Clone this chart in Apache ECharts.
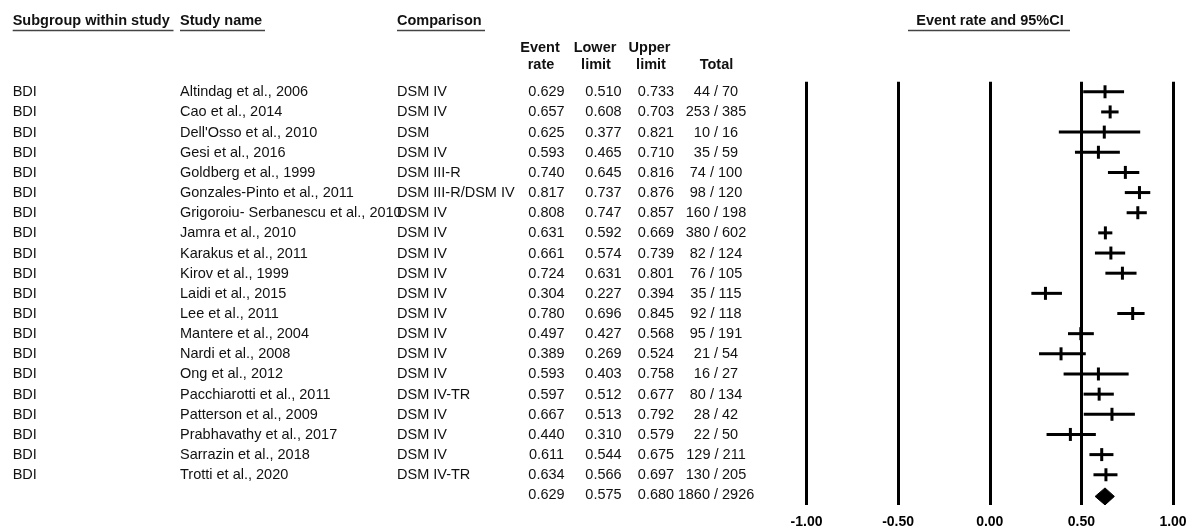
<!DOCTYPE html>
<html><head><meta charset="utf-8">
<script src="https://cdn.jsdelivr.net/npm/echarts@6/dist/echarts.min.js"></script>
<style>html,body{margin:0;padding:0;background:#fff}#c{width:1192px;height:529px}</style>
</head><body><div id="c"></div>
<script>
// ---------------- data ----------------
const subgroups = ['BDI','BDI','BDI','BDI','BDI','BDI','BDI','BDI','BDI','BDI',
                   'BDI','BDI','BDI','BDI','BDI','BDI','BDI','BDI','BDI','BDI'];
const studies = ['Altindag et al., 2006','Cao et al., 2014',"Dell'Osso et al., 2010",'Gesi et al., 2016',
  'Goldberg et al., 1999','Gonzales-Pinto et al., 2011','Grigoroiu- Serbanescu et al., 2010','Jamra et al., 2010',
  'Karakus et al., 2011','Kirov et al., 1999','Laidi et al., 2015','Lee et al., 2011','Mantere et al., 2004',
  'Nardi et al., 2008','Ong et al., 2012','Pacchiarotti et al., 2011','Patterson et al., 2009',
  'Prabhavathy et al., 2017','Sarrazin et al., 2018','Trotti et al., 2020'];
const comparisons = ['DSM IV','DSM IV','DSM','DSM IV','DSM III-R','DSM III-R/DSM IV','DSM IV','DSM IV','DSM IV','DSM IV',
  'DSM IV','DSM IV','DSM IV','DSM IV','DSM IV','DSM IV-TR','DSM IV','DSM IV','DSM IV','DSM IV-TR'];
const eventRates  = [0.629,0.657,0.625,0.593,0.740,0.817,0.808,0.631,0.661,0.724,0.304,0.780,0.497,0.389,0.593,0.597,0.667,0.440,0.611,0.634];
const lowerLimits = [0.510,0.608,0.377,0.465,0.645,0.737,0.747,0.592,0.574,0.631,0.227,0.696,0.427,0.269,0.403,0.512,0.513,0.310,0.544,0.566];
const upperLimits = [0.733,0.703,0.821,0.710,0.816,0.876,0.857,0.669,0.739,0.801,0.394,0.845,0.568,0.524,0.758,0.677,0.792,0.579,0.675,0.697];
const totals = ['44 / 70','253 / 385','10 / 16','35 / 59','74 / 100','98 / 120','160 / 198','380 / 602','82 / 124','76 / 105',
  '35 / 115','92 / 118','95 / 191','21 / 54','16 / 27','80 / 134','28 / 42','22 / 50','129 / 211','130 / 205'];
const summaryStats = [0.629, 0.575, 0.680];
const summaryTotal = '1860 / 2926';
const tickValues = [-1, -0.5, 0, 0.5, 1];
const tickLabels = ['-1.00','-0.50','0.00','0.50','1.00'];

// ---------------- layout ----------------
const FONT_FAMILY = '"Liberation Sans", Arial, Helvetica, sans-serif';
const F_REG = '14.5px ' + FONT_FAMILY;
const F_BOLD = 'bold 14.5px ' + FONT_FAMILY;
const TXT = '#111';
const COL = {subgroup: 12.7, study: 180, comparison: 397, rate: 546.5, lower: 603.5, upper: 656, total: 716};

function txt(x, y, s, font, align) {
  return {type: 'text', x: x, y: y, silent: true,
    style: {text: s, x: 0, y: 0, font: font, fill: TXT, align: align, textAlign: align,
            verticalAlign: 'middle', textVerticalAlign: 'middle'}};
}
function uline(x1, x2, y) {
  return {type: 'line', silent: true, shape: {x1: x1, y1: y, x2: x2, y2: y}, style: {stroke: '#444', lineWidth: 1.6}};
}

const rowCats = studies.concat(['Summary']);
const nRows = studies.length;

const chart = echarts.init(document.getElementById('c'), null, {renderer: 'canvas'});
chart.setOption({
  animation: false,
  backgroundColor: '#fff',
  grid: {left: 806.5, right: 19, top: 81.7, bottom: 23.6},
  xAxis: {
    type: 'value', min: -1, max: 1, interval: 0.5,
    axisLine: {show: false}, axisTick: {show: false},
    splitLine: {show: true, lineStyle: {color: '#000', width: 3}},
    axisLabel: {color: '#000', fontWeight: 'bold', fontSize: 14, fontFamily: FONT_FAMILY, margin: 10,
      showMinLabel: true, showMaxLabel: true,
      formatter: function (v) { const k = tickValues.indexOf(v); return k >= 0 ? tickLabels[k] : v.toFixed(2); }}
  },
  yAxis: {type: 'category', inverse: true, data: rowCats, show: false},
  graphic: [
    txt(12.7, 21, 'Subgroup within study', F_BOLD, 'left'),
    uline(12.7, 173.5, 30.5),
    txt(180, 21, 'Study name', F_BOLD, 'left'),
    uline(180, 265, 30.5),
    txt(397, 21, 'Comparison', F_BOLD, 'left'),
    uline(397, 485, 30.5),
    txt(990, 21, 'Event rate and 95%CI', F_BOLD, 'center'),
    uline(908, 1070, 30.5),
    txt(540, 48, 'Event', F_BOLD, 'center'), txt(541, 65, 'rate', F_BOLD, 'center'),
    txt(595, 48, 'Lower', F_BOLD, 'center'), txt(596, 65, 'limit', F_BOLD, 'center'),
    txt(649.5, 48, 'Upper', F_BOLD, 'center'), txt(651, 65, 'limit', F_BOLD, 'center'),
    txt(716.5, 65, 'Total', F_BOLD, 'center')
  ],
  series: [
    { // table text rows
      type: 'custom', coordinateSystem: 'cartesian2d', clip: false, silent: true,
      data: rowCats.map(function (_, i) { return [0, i]; }),
      renderItem: function (params, api) {
        const row = api.value(1);
        const y = api.coord([0, row])[1] + 0.5;
        const ch = [];
        if (row < nRows) {
          ch.push(txt(COL.subgroup, y, subgroups[row], F_REG, 'left'));
          ch.push(txt(COL.study, y, studies[row], F_REG, 'left'));
          ch.push(txt(COL.comparison, y, comparisons[row], F_REG, 'left'));
          ch.push(txt(COL.rate, y, eventRates[row].toFixed(3), F_REG, 'center'));
          ch.push(txt(COL.lower, y, lowerLimits[row].toFixed(3), F_REG, 'center'));
          ch.push(txt(COL.upper, y, upperLimits[row].toFixed(3), F_REG, 'center'));
          ch.push(txt(COL.total, y, totals[row], F_REG, 'center'));
        } else {
          ch.push(txt(COL.rate, y, summaryStats[0].toFixed(3), F_REG, 'center'));
          ch.push(txt(COL.lower, y, summaryStats[1].toFixed(3), F_REG, 'center'));
          ch.push(txt(COL.upper, y, summaryStats[2].toFixed(3), F_REG, 'center'));
          ch.push(txt(COL.total, y, summaryTotal, F_REG, 'center'));
        }
        return {type: 'group', children: ch};
      }
    },
    { // study CIs
      type: 'custom', coordinateSystem: 'cartesian2d', clip: false, silent: true,
      data: studies.map(function (_, i) { return [eventRates[i], i, lowerLimits[i], upperLimits[i]]; }),
      encode: {x: [0, 2, 3], y: 1},
      renderItem: function (params, api) {
        const row = api.value(1);
        const pR = api.coord([api.value(0), row]);
        const pL = api.coord([api.value(2), row]);
        const pH = api.coord([api.value(3), row]);
        return {type: 'group', children: [
          {type: 'line', shape: {x1: pL[0], y1: pL[1], x2: pH[0], y2: pH[1]}, style: {stroke: '#000', lineWidth: 3}},
          {type: 'line', shape: {x1: pR[0], y1: pR[1] - 6.5, x2: pR[0], y2: pR[1] + 6.5}, style: {stroke: '#000', lineWidth: 3}}
        ]};
      }
    },
    { // summary diamond
      type: 'custom', coordinateSystem: 'cartesian2d', clip: false, silent: true,
      data: [[summaryStats[0], nRows, summaryStats[1], summaryStats[2]]],
      encode: {x: [0, 2, 3], y: 1},
      renderItem: function (params, api) {
        const row = api.value(1);
        const pR = api.coord([api.value(0), row]);
        const pL = api.coord([api.value(2), row]);
        const pH = api.coord([api.value(3), row]);
        const yc = pR[1] + 1.5;
        return {type: 'polygon', shape: {points: [[pL[0], yc], [pR[0], yc - 8.5], [pH[0], yc], [pR[0], yc + 8.5]]},
          style: {fill: '#000', stroke: '#000', lineWidth: 1}};
      }
    }
  ]
});
</script>
</body></html>
